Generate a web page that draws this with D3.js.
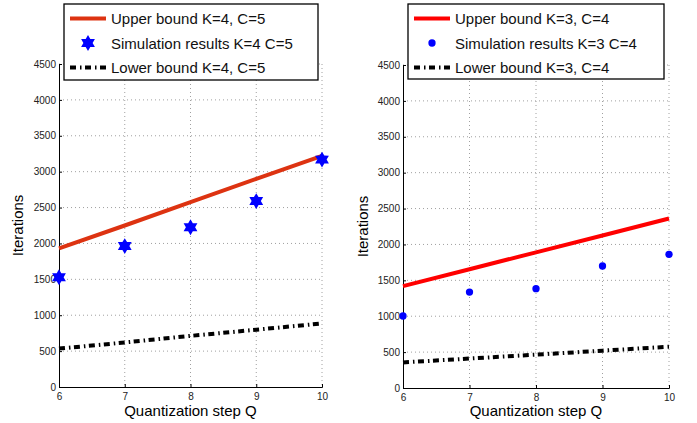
<!DOCTYPE html>
<html>
<head>
<meta charset="utf-8">
<script src="https://cdn.jsdelivr.net/npm/d3@7"></script>
<style>
  body { margin: 0; background: #fff; }
  svg { display: block; font-family: "Liberation Sans", Arial, Helvetica, sans-serif; }
</style>
</head>
<body>
<div id="chart"></div>
<script>
// quantization steps on the x axis
const qSteps = [6, 7, 8, 9, 10];
const yTicks = [0, 500, 1000, 1500, 2000, 2500, 3000, 3500, 4000, 4500];

// left panel, K=4 C=5
const upperK4 = [1930, 2250, 2575, 2900, 3220];
const simK4 = [1530, 1963, 2225, 2590, 3168];
const lowerK4 = [535, 620, 712, 798, 885];

// right panel, K=3 C=4
const upperK3 = [1420, 1655, 1890, 2125, 2362];
const simK3 = [1003, 1337, 1384, 1700, 1862];
const lowerK3 = [356, 410, 465, 520, 575];

const W = 697, H = 423;

const svg = d3.select('#chart').append('svg')
  .attr('width', W)
  .attr('height', H);

// six pointed star marker, same shape as matlab 'h'
const hexagram = {
  draw(ctx, size) {
    const R = Math.sqrt(size) * 0.62;
    const r = R * 0.58;
    for (let i = 0; i < 12; i++) {
      const a = -Math.PI / 2 + i * Math.PI / 6;
      const rad = i % 2 === 0 ? R : r;
      const x = rad * Math.cos(a), y = rad * Math.sin(a);
      if (i === 0) ctx.moveTo(x, y); else ctx.lineTo(x, y);
    }
    ctx.closePath();
  }
};

const panels = [
  {
    left: 59, right: 322, top: 64, bottom: 387, labelX: 18,
    upper: upperK4, sim: simK4, lower: lowerK4,
    upperColor: '#dd3311', marker: 'star',
    legend: { x: 64, y: 4, w: 254, h: 76 },
    names: ['Upper bound K=4, C=5', 'Simulation results K=4 C=5', 'Lower bound K=4, C=5']
  },
  {
    left: 403, right: 669, top: 65, bottom: 388, labelX: 363,
    upper: upperK3, sim: simK3, lower: lowerK3,
    upperColor: '#ff0000', marker: 'dot',
    legend: { x: 408, y: 4, w: 256, h: 75 },
    names: ['Upper bound K=3, C=4', 'Simulation results K=3 C=4', 'Lower bound K=3, C=4']
  }
];

const lowerDash = '6,4,1.5,3.5';

panels.forEach(p => {
  const x = d3.scaleLinear().domain([6, 10]).range([p.left, p.right]);
  const y = d3.scaleLinear().domain([0, 4500]).range([p.bottom, p.top]);

  const g = svg.append('g');

  // dotted grid
  g.append('g')
    .selectAll('line.hg')
    .data(yTicks.slice(1))
    .join('line')
    .attr('x1', p.left).attr('x2', p.right)
    .attr('y1', d => y(d)).attr('y2', d => y(d))
    .attr('stroke', '#888')
    .attr('stroke-width', 0.8)
    .attr('stroke-dasharray', '1,3');

  g.append('g')
    .selectAll('line.vg')
    .data(qSteps.slice(1))
    .join('line')
    .attr('x1', d => x(d)).attr('x2', d => x(d))
    .attr('y1', p.top).attr('y2', p.bottom)
    .attr('stroke', '#888')
    .attr('stroke-width', 0.8)
    .attr('stroke-dasharray', '1,3');

  // axes
  const xAxis = g.append('g')
    .attr('transform', `translate(0,${p.bottom})`)
    .call(d3.axisBottom(x).tickValues(qSteps).tickSize(-3).tickPadding(6).tickFormat(d3.format('d')));
  const yAxis = g.append('g')
    .attr('transform', `translate(${p.left},0)`)
    .call(d3.axisLeft(y).tickValues(yTicks).tickSize(-3).tickPadding(3).tickFormat(d3.format('d')));

  [xAxis, yAxis].forEach(a => {
    a.select('.domain').attr('stroke', '#000').attr('stroke-width', 1);
    a.selectAll('.tick line').attr('stroke', '#000');
    a.selectAll('text')
      .style('font-size', '10px')
      .style('font-family', '"Liberation Sans", Arial, sans-serif')
      .attr('fill', '#222');
  });

  g.append('text')
    .attr('x', (p.left + p.right) / 2)
    .attr('y', 416)
    .attr('text-anchor', 'middle')
    .style('font-size', '15px')
    .text('Quantization step Q');

  g.append('text')
    .attr('transform', `translate(${p.labelX + 5},${(p.top + p.bottom) / 2}) rotate(-90)`)
    .attr('text-anchor', 'middle')
    .style('font-size', '15px')
    .text('Iterations');

  const line = d3.line()
    .x((d, i) => x(qSteps[i]))
    .y(d => y(d));

  g.append('path')
    .datum(p.lower)
    .attr('d', line)
    .attr('fill', 'none')
    .attr('stroke', '#000')
    .attr('stroke-width', 4)
    .attr('stroke-dasharray', lowerDash);

  g.append('path')
    .datum(p.upper)
    .attr('d', line)
    .attr('fill', 'none')
    .attr('stroke', p.upperColor)
    .attr('stroke-width', 4);

  const markerPath = p.marker === 'star'
    ? d3.symbol().type(hexagram).size(165)
    : d3.symbol().type(d3.symbolCircle).size(42);

  g.append('g')
    .selectAll('path')
    .data(p.sim)
    .join('path')
    .attr('transform', (d, i) => `translate(${x(qSteps[i])},${y(d)})`)
    .attr('d', markerPath())
    .attr('fill', '#0000ff');

  // legend
  const L = p.legend;
  const lg = g.append('g').attr('transform', `translate(${L.x},${L.y})`);
  lg.append('rect')
    .attr('width', L.w).attr('height', L.h)
    .attr('fill', '#fff')
    .attr('stroke', '#000')
    .attr('stroke-width', 1.3);

  const rowY = [14.5, 39, 63.5];
  const sx0 = 6, sx1 = 42;
  lg.append('line')
    .attr('x1', sx0).attr('x2', sx1)
    .attr('y1', rowY[0]).attr('y2', rowY[0])
    .attr('stroke', p.upperColor)
    .attr('stroke-width', 4);
  lg.append('path')
    .attr('transform', `translate(${(sx0 + sx1) / 2},${rowY[1]})`)
    .attr('d', markerPath())
    .attr('fill', '#0000ff');
  lg.append('line')
    .attr('x1', sx0).attr('x2', sx1)
    .attr('y1', rowY[2]).attr('y2', rowY[2])
    .attr('stroke', '#000')
    .attr('stroke-width', 4)
    .attr('stroke-dasharray', lowerDash);

  lg.selectAll('text.name')
    .data(p.names)
    .join('text')
    .attr('x', 47)
    .attr('y', (d, i) => rowY[i] + 5.5)
    .style('font-size', '15px')
    .attr('fill', '#111')
    .text(d => d);
});
</script>
</body>
</html>
